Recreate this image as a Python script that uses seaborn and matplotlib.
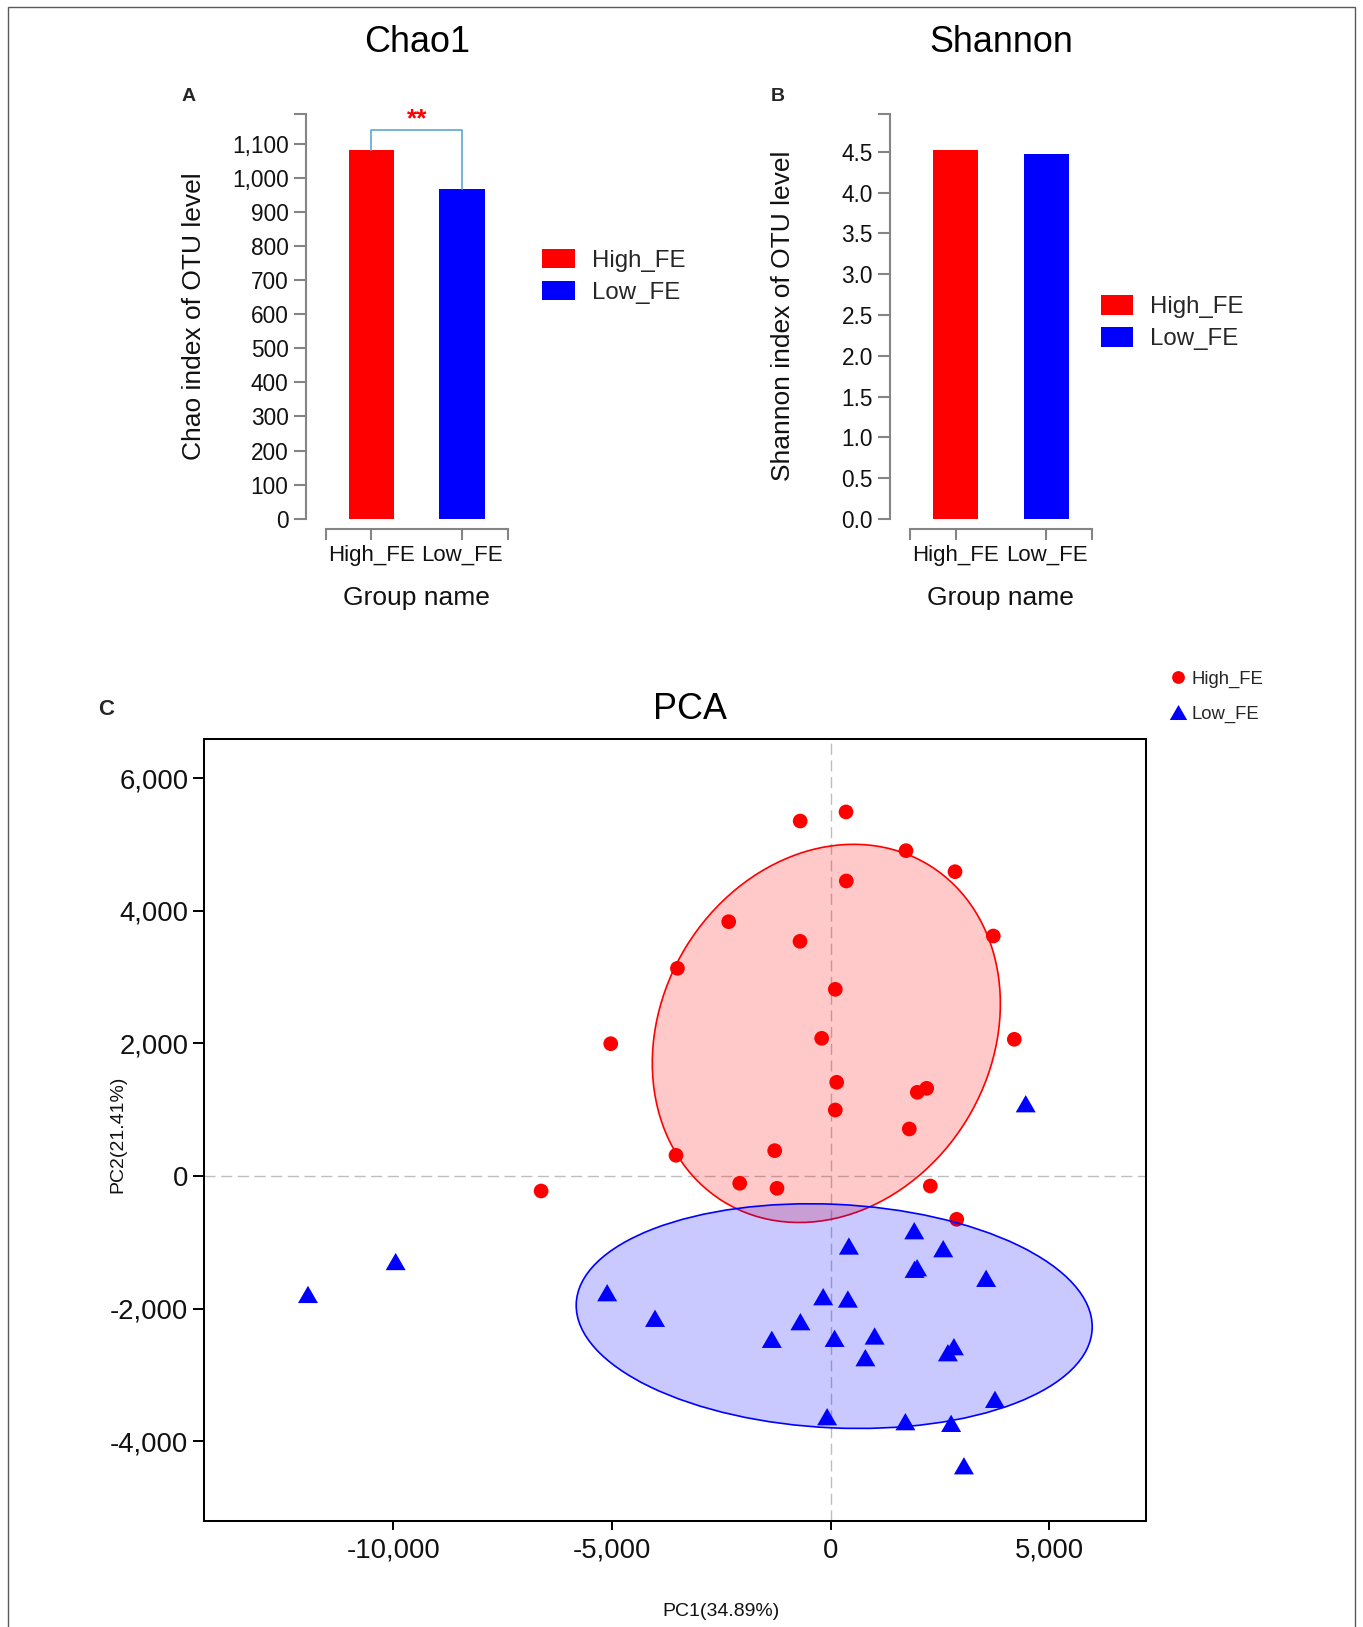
import numpy as np
import pandas as pd
import matplotlib
matplotlib.use("Agg")
import matplotlib.pyplot as plt
import seaborn as sns
from matplotlib.patches import Ellipse, Rectangle, Patch
from matplotlib.lines import Line2D
from matplotlib.path import Path
from matplotlib.colors import to_rgba

# ---------------- data ----------------
groups = ["High_FE", "Low_FE"]
group_colors = {"High_FE": "#FF0000", "Low_FE": "#0000FF"}

chao_values = [1080, 967]
chao_ticks = [0, 100, 200, 300, 400, 500, 600, 700, 800, 900, 1000, 1100]
shannon_values = [4.52, 4.48]
shannon_ticks = [0.0, 0.5, 1.0, 1.5, 2.0, 2.5, 3.0, 3.5, 4.0, 4.5]
chao_sig_level = 1139
chao_sig_text = "**"

high_pc1 = [-698, 350, 1722, 2843, 357, -2333, -702, 3719, -3505, 105, -5031, -206, 4199,
            137, 1981, 2195, 105, 1798, -1281, -3538, -2081, -1228, 2278, -6623, 2882]
high_pc2 = [5353, 5490, 4906, 4589, 4449, 3835, 3539, 3619, 3132, 2815, 1995, 2076, 2061,
            1413, 1262, 1322, 995, 709, 382, 312, -110, -186, -151, -226, -653]
low_pc1 = [4460, -11955, -9950, -5113, -4018, 416, 1911, 2573, 1918, 1976, 3554, -172, 393,
           -693, -1347, 89, 1004, 793, 2680, 2818, 3757, -82, 1708, 2754, 3047]
low_pc2 = [1090, -1786, -1290, -1760, -2146, -1056, -825, -1096, -1407, -1383, -1543, -1820, -1855,
           -2197, -2463, -2448, -2413, -2740, -2665, -2574, -3368, -3630, -3705, -3730, -4370]

# confidence ellipses: centre x, centre y, width, height, angle
ellipse_high = [-100, 2150, 8058, 5564, 12.4]
ellipse_low = [80, -2113, 11806, 3372, -1.7]

pca_xticks = [-10000, -5000, 0, 5000]
pca_yticks = [-4000, -2000, 0, 2000, 4000, 6000]
pc1_label = "PC1(34.89%)"
pc2_label = "PC2(21.41%)"

# ---------------- style ----------------
sns.set_style("ticks")
plt.rcParams["font.family"] = ["Liberation Sans", "DejaVu Sans"]

W, H = 1363, 1627
fig = plt.figure(figsize=(W / 100, H / 100), dpi=100)

def fx(px):
    return px / W

def fy(py):
    return 1 - py / H

# outer frame
fig.patches.append(Rectangle((fx(8), -0.01), fx(1355) - fx(8), fy(6.5) + 0.01,
                             transform=fig.transFigure, fill=False,
                             edgecolor="#5a5a5a", lw=1.0))

spine_grey = "#858585"
txt_col = "#111111"

def bar_panel(rect, values, ticks, labels, title, ylabel, letter, letter_x,
              ylab_x, legend_x, legend_y):
    ax = fig.add_axes(rect)
    df = pd.DataFrame({"group": groups, "value": values})
    sns.barplot(data=df, x="group", y="value", hue="group", palette=group_colors,
                width=0.5, saturation=1, linewidth=0, legend=False, ax=ax)
    ymax = max(values) * 1.1
    ax.set_xlim(-0.5, 1.5)
    ax.set_ylim(0, ymax)
    for s in ["top", "right"]:
        ax.spines[s].set_visible(False)
    ax.spines["left"].set_position(("outward", 14.4))
    ax.spines["bottom"].set_position(("outward", 7.6))
    for s in ["left", "bottom"]:
        ax.spines[s].set_color(spine_grey)
        ax.spines[s].set_linewidth(1.5)
    ax.set_yticks(list(ticks) + [ymax], labels=list(labels) + [""])
    ax.set_xticks([-0.5, 0, 1, 1.5], labels=["", groups[0], groups[1], ""])
    ax.tick_params(axis="y", length=9, width=1.5, color=spine_grey, labelsize=16.3,
                   labelcolor=txt_col, pad=3.5)
    ax.tick_params(axis="x", length=8.2, width=1.5, color=spine_grey, labelsize=16,
                   labelcolor=txt_col, pad=3)
    ax.set_xlabel("Group name", fontsize=19, color=txt_col, va="baseline")
    ax.xaxis.set_label_coords(0.499, (518.8 - 605) / 405.3)
    ax.set_ylabel(ylabel, fontsize=19, color=txt_col, va="baseline")
    ax.yaxis.set_label_coords((ylab_x - rect[0] * W) / (rect[2] * W), 0.4996)
    ax.set_title(title, fontsize=25.8, color="black", y=(518.8 - 52.2) / 405.3,
                 pad=0, va="baseline")
    fig.text(fx(letter_x), fy(101.2), letter, fontsize=14, fontweight="bold",
             ha="left", va="baseline")
    handles = [Patch(facecolor=group_colors[g], edgecolor="none") for g in groups]
    ax.legend(handles, groups, loc="center left",
              bbox_to_anchor=(fx(legend_x), fy(legend_y)), bbox_transform=fig.transFigure,
              frameon=False, fontsize=17.3, handlelength=1.36, handleheight=0.85,
              handletextpad=0.7, labelspacing=0.38, borderpad=0, borderaxespad=0)
    return ax

rect_a = [fx(325.9), fy(518.8), 181.7 / W, 405.3 / H]
rect_b = [fx(910.2), fy(518.8), 181.7 / W, 405.3 / H]

ax_a = bar_panel(rect_a, chao_values, chao_ticks, [f"{v:,}" for v in chao_ticks],
                 "Chao1", "Chao index of OTU level", "A", 182, 200.9, 542.4, 276.3)
ax_a.plot([0, 0, 1, 1], [chao_values[0], chao_sig_level, chao_sig_level, chao_values[1]],
          color="#6BAED6", lw=1.3, clip_on=False, zorder=3)
ax_a.text(0.5, 1172, chao_sig_text, color="red", fontsize=19, fontweight="bold",
          ha="center", va="center", clip_on=False)

ax_b = bar_panel(rect_b, shannon_values, shannon_ticks, [f"{v:.1f}" for v in shannon_ticks],
                 "Shannon", "Shannon index of OTU level", "B", 771, 790.1, 1100.8, 322.9)

# ---------------- PCA ----------------
rect_c = [fx(204), fy(1521), 942 / W, 782 / H]
ax_c = fig.add_axes(rect_c)

tri = Path([(0, 0.433), (-0.5, -0.433), (0.5, -0.433), (0, 0.433)],
           [Path.MOVETO, Path.LINETO, Path.LINETO, Path.CLOSEPOLY])

df_pca = pd.DataFrame({
    "PC1": high_pc1 + low_pc1,
    "PC2": high_pc2 + low_pc2,
    "group": [groups[0]] * len(high_pc1) + [groups[1]] * len(low_pc1),
})

ax_c.axhline(0, color="#BEBEBE", lw=1.0, ls=(0, (8, 4)), zorder=0.5)
ax_c.axvline(0, color="#BEBEBE", lw=1.0, ls=(0, (8, 4)), zorder=0.5)

sns.scatterplot(data=df_pca, x="PC1", y="PC2", hue="group", style="group", size="group",
                palette=group_colors, markers={groups[0]: "o", groups[1]: tri},
                sizes={groups[0]: 112, groups[1]: 207}, linewidth=0, edgecolor="none",
                legend=False, ax=ax_c, zorder=3)

for g, e in zip(groups, [ellipse_high, ellipse_low]):
    ax_c.add_patch(Ellipse((e[0], e[1]), e[2], e[3], angle=e[4],
                           facecolor=to_rgba(group_colors[g], 0.21),
                           edgecolor=group_colors[g], lw=1.2, zorder=4))

ax_c.set_xlim(-14333, 7211)
ax_c.set_ylim(-5203, 6590)
for s in ax_c.spines.values():
    s.set_color("black")
    s.set_linewidth(1.45)
ax_c.set_xticks(pca_xticks, labels=[f"{v:,}" for v in pca_xticks])
ax_c.set_yticks(pca_yticks, labels=[f"{v:,}" for v in pca_yticks])
ax_c.tick_params(axis="x", length=6.5, width=1.4, color="black", labelsize=19.8,
                 labelcolor=txt_col, pad=5.4)
ax_c.tick_params(axis="y", length=8, width=1.4, color="black", labelsize=19.8,
                 labelcolor=txt_col, pad=3.2)
ax_c.set_xlabel(pc1_label, fontsize=14, color=txt_col, va="baseline")
ax_c.xaxis.set_label_coords((720.5 - 204) / 942, (1521 - 1616) / 782)
ax_c.set_ylabel(pc2_label, fontsize=14, color=txt_col, va="baseline")
ax_c.yaxis.set_label_coords((122.3 - 204) / 942, (1521 - 1134.2) / 782)
ax_c.set_title("PCA", fontsize=25.8, color="black", y=(1521 - 719) / 782, x=(690 - 204) / 942,
               pad=0, va="baseline")
fig.text(fx(98.2), fy(715), "C", fontsize=16, fontweight="bold", ha="left", va="baseline")

leg_handles = [
    Line2D([], [], marker="o", linestyle="none", markerfacecolor=group_colors[groups[0]],
           markeredgecolor="none", markersize=9.2),
    Line2D([], [], marker=tri, linestyle="none", markerfacecolor=group_colors[groups[1]],
           markeredgecolor="none", markersize=12.5),
]
ax_c.legend(leg_handles, groups, loc="center left",
            bbox_to_anchor=(fx(1168.3), fy(696.7)), bbox_transform=fig.transFigure,
            frameon=False, fontsize=13.3, handlelength=1.0, handletextpad=0.26,
            labelspacing=0.95, borderpad=0, borderaxespad=0)

fig.savefig("out.png", dpi=100)
